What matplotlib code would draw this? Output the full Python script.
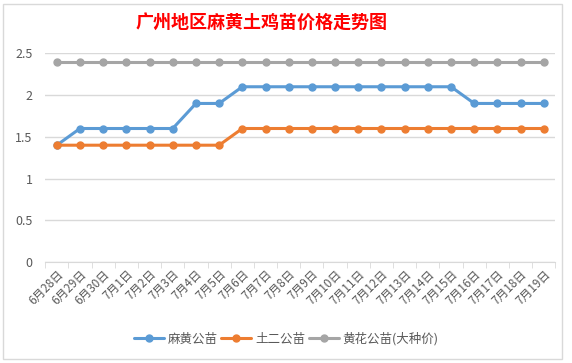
import matplotlib.pyplot as plt
from matplotlib.patches import Rectangle

plt.rcParams['font.family'] = ['Noto Sans CJK SC', 'DejaVu Sans']

fechas = ["6月28日", "6月29日", "6月30日"] + [f"7月{d}日" for d in range(1, 20)]
mahuang = [1.4, 1.6, 1.6, 1.6, 1.6, 1.6, 1.9, 1.9,
           2.1, 2.1, 2.1, 2.1, 2.1, 2.1, 2.1, 2.1, 2.1, 2.1,
           1.9, 1.9, 1.9, 1.9]
tuer = [1.4, 1.4, 1.4, 1.4, 1.4, 1.4, 1.4, 1.4,
        1.6, 1.6, 1.6, 1.6, 1.6, 1.6, 1.6, 1.6, 1.6, 1.6,
        1.6, 1.6, 1.6, 1.6]
huanghua = [2.4] * 22
series = ["麻黄公苗", "土二公苗", "黄花公苗(大种价)"]
colores = ["#5b9bd5", "#ed7d31", "#a5a5a5"]

fig = plt.figure(figsize=(5.72, 3.63), dpi=100)
ax = fig.add_axes([0.079, 0.278, 0.892, 0.575])

x = list(range(len(fechas)))
for datos, nombre, c in zip([mahuang, tuer, huanghua], series, colores):
    ax.plot(x, datos, color=c, linewidth=2.2, marker='o', markersize=5,
            label=nombre, solid_capstyle='round')

ax.set_xlim(-0.5, len(fechas) - 0.5)
ax.set_ylim(0, 2.5)
ax.set_yticks([0, 0.5, 1, 1.5, 2, 2.5])
ax.set_yticklabels(["0", "0.5", "1", "1.5", "2", "2.5"])
ax.grid(axis='y', color='#d9d9d9', linewidth=1)
ax.set_axisbelow(True)
for lado in ['top', 'right', 'left']:
    ax.spines[lado].set_visible(False)
ax.spines['bottom'].set_color('#d9d9d9')

ax.set_xticks(x)
ax.set_xticklabels(fechas, rotation=45, ha='right', rotation_mode='anchor',
                   fontsize=8.5, color='#595959')
ax.set_xticks([i - 0.5 for i in range(len(fechas) + 1)], minor=True)
ax.tick_params(axis='x', which='major', length=0, pad=4)
ax.tick_params(axis='x', which='minor', length=4, color='#d9d9d9')
ax.tick_params(axis='y', length=0, labelsize=9, labelcolor='#595959', pad=9)

fig.text(0.457, 0.938, "广州地区麻黄土鸡苗价格走势图", color='red', fontsize=13,
         fontweight='bold', ha='center', va='center')

fig.legend(loc='center', bbox_to_anchor=(0.5, 0.066), ncol=3, frameon=False,
           fontsize=9, handlelength=2.4, columnspacing=0.3, handletextpad=0.3,
           labelcolor='#595959')

fig.patches.append(Rectangle((0.005, 0.01), 0.978, 0.98, transform=fig.transFigure,
                             fill=False, edgecolor='#d9d9d9', linewidth=1))

fig.savefig("out.png", dpi=100)
